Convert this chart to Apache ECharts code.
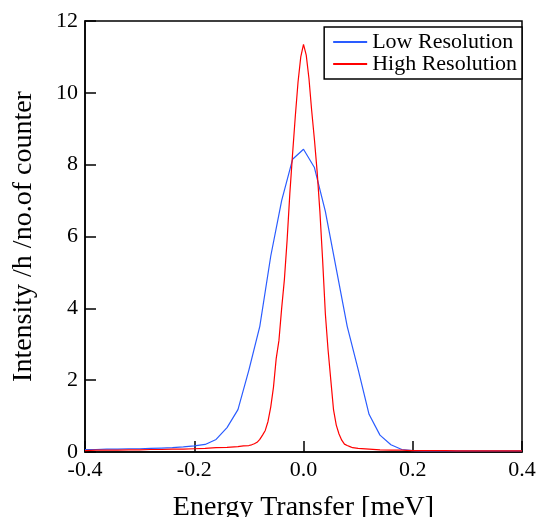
<!DOCTYPE html>
<html>
<head>
<meta charset="utf-8">
<script src="https://cdn.jsdelivr.net/npm/echarts@6/dist/echarts.min.js"></script>
<style>html,body{margin:0;padding:0;background:#fff}#c{width:539px;height:517px}</style>
</head>
<body>
<div id="c"></div>
<script>
// Low Resolution series (energy transfer in meV, intensity)
const lowX = [-0.40,-0.38,-0.36,-0.34,-0.32,-0.30,-0.28,-0.26,-0.24,-0.22,-0.20,-0.18,-0.16,-0.14,-0.12,-0.10,-0.08,-0.06,-0.04,-0.02,0.00,0.02,0.04,0.06,0.08,0.10,0.12,0.14,0.16,0.18,0.20,0.22,0.24,0.26,0.28,0.30,0.32,0.34,0.36,0.38,0.40];
const lowY = [0.07,0.07,0.08,0.08,0.09,0.09,0.10,0.11,0.12,0.14,0.17,0.21,0.35,0.68,1.18,2.28,3.5,5.45,7.0,8.15,8.43,7.92,6.7,5.1,3.5,2.3,1.05,0.47,0.2,0.07,0.04,0.03,0.03,0.03,0.03,0.03,0.03,0.03,0.03,0.03,0.03];
// High Resolution series
const highX = [-0.40,-0.38,-0.36,-0.34,-0.32,-0.30,-0.28,-0.26,-0.24,-0.22,-0.20,-0.18,-0.16,-0.14,-0.12,-0.11,-0.10,-0.095,-0.09,-0.085,-0.08,-0.075,-0.07,-0.065,-0.06,-0.055,-0.05,-0.045,-0.04,-0.035,-0.03,-0.025,-0.02,-0.015,-0.01,-0.005,0.0,0.005,0.01,0.015,0.02,0.025,0.03,0.035,0.04,0.045,0.05,0.055,0.06,0.065,0.07,0.075,0.08,0.085,0.09,0.10,0.12,0.14,0.16,0.18,0.20,0.22,0.24,0.26,0.28,0.30,0.32,0.34,0.36,0.38,0.40];
const highY = [0.04,0.05,0.05,0.05,0.06,0.06,0.07,0.07,0.08,0.08,0.09,0.10,0.12,0.13,0.15,0.17,0.18,0.20,0.23,0.27,0.35,0.47,0.6,0.85,1.25,1.8,2.6,3.1,4.0,4.8,5.9,7.2,8.3,9.35,10.3,11.0,11.35,11.05,10.4,9.5,8.7,7.8,6.7,5.35,3.85,2.84,2.0,1.17,0.75,0.5,0.33,0.22,0.18,0.15,0.12,0.10,0.08,0.06,0.05,0.05,0.04,0.04,0.04,0.04,0.03,0.03,0.03,0.03,0.03,0.03,0.03];
const xTicks = [-0.4,-0.2,0.0,0.2,0.4];
const yTicks = [0,2,4,6,8,10,12];

const font = '"Liberation Serif", "DejaVu Serif", serif';
const zip = (xs, ys) => xs.map((x, i) => [x, ys[i]]);

const chart = echarts.init(document.getElementById('c'));
chart.setOption({
  animation: false,
  backgroundColor: '#fff',
  grid: { left: 85, right: 17, top: 21, bottom: 65, containLabel: false, outerBoundsMode: 'none', show: true, borderColor: '#000', borderWidth: 1.5, backgroundColor: 'transparent' },
  legend: {
    orient: 'vertical', right: 17, top: 27,
    backgroundColor: '#fff', borderColor: '#000', borderWidth: 1.5,
    padding: [4, 5, 4, 8], itemGap: 0, itemWidth: 34, itemHeight: 2,
    textStyle: { fontFamily: font, fontSize: 22, color: '#000', lineHeight: 22 },
    data: ['Low Resolution', 'High Resolution']
  },
  xAxis: {
    type: 'value', min: xTicks[0], max: xTicks[xTicks.length - 1], interval: 0.2,
    name: 'Energy Transfer [meV]', nameLocation: 'middle', nameGap: 42,
    nameTextStyle: { fontFamily: font, fontSize: 28, color: '#000' },
    axisLine: { onZero: false, lineStyle: { color: '#000', width: 1.5 } },
    axisTick: { inside: true, length: 11, lineStyle: { color: '#000', width: 1.5 } },
    axisLabel: { fontFamily: font, fontSize: 22, color: '#000', margin: 7, formatter: v => v.toFixed(1) },
    splitLine: { show: false }
  },
  yAxis: {
    type: 'value', min: yTicks[0], max: yTicks[yTicks.length - 1], interval: 2,
    name: 'Intensity /h /no.of counter', nameLocation: 'middle', nameGap: 47,
    nameTextStyle: { fontFamily: font, fontSize: 28, color: '#000' },
    axisLine: { show: true, onZero: false, lineStyle: { color: '#000', width: 1.5 } },
    axisTick: { show: true, inside: true, length: 11, lineStyle: { color: '#000', width: 1.5 } },
    axisLabel: { fontFamily: font, fontSize: 22, color: '#000', margin: 7 },
    splitLine: { show: false }
  },
  series: [
    { name: 'Low Resolution', type: 'line', data: zip(lowX, lowY), symbol: 'none', color: '#2a5cff', lineStyle: { width: 1.2, color: '#2a5cff' } },
    { name: 'High Resolution', type: 'line', data: zip(highX, highY), symbol: 'none', color: '#ff0000', lineStyle: { width: 1.2, color: '#ff0000' } }
  ]
});
</script>
</body>
</html>
